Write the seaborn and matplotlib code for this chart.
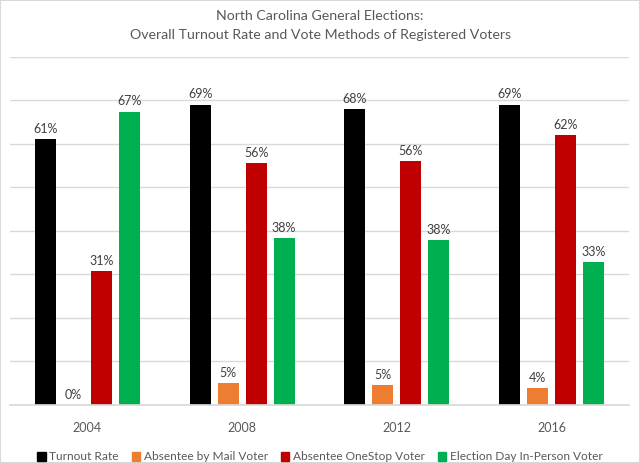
import matplotlib
matplotlib.use("Agg")
import matplotlib.pyplot as plt
import matplotlib.patches as mpatches
import seaborn as sns
import pandas as pd

years = ["2004", "2008", "2012", "2016"]
series = ["Turnout Rate", "Absentee by Mail Voter", "Absentee OneStop Voter", "Election Day In-Person Voter"]
turnout = [61.1, 69.0, 67.9, 69.0]
mail = [0.0, 5.0, 4.6, 3.8]
onestop = [30.8, 55.6, 56.1, 62.0]
election_day = [67.4, 38.3, 37.9, 32.8]
colors = ["#000000", "#ED7D31", "#C00000", "#00B050"]

rows = []
for name, vals in zip(series, [turnout, mail, onestop, election_day]):
    for y, v in zip(years, vals):
        rows.append({"year": y, "series": name, "value": v})
df = pd.DataFrame(rows)

sns.set_theme(style="white")
plt.rcParams['font.family'] = ['Lato', 'DejaVu Sans']

fig = plt.figure(figsize=(6.4, 4.63), dpi=100)
ax = fig.add_axes([10/640, 1-405/463, 619/640, (405-56.7)/463])

sns.barplot(data=df, x="year", y="value", hue="series", order=years, hue_order=series,
            palette=colors, width=0.724, gap=0.25, ax=ax, legend=False, errorbar=None,
            saturation=1, linewidth=0)

for cont in ax.containers:
    ax.bar_label(cont, labels=[f"{round(b.get_height()):.0f}%" for b in cont],
                 padding=3, fontsize=9, color="#404040")

ax.set_ylim(0, 80)
ax.set_xlim(-0.5, 3.5)
ax.set_yticks(range(0, 81, 10))
ax.set_yticklabels([])
ax.yaxis.grid(True, color="#D9D9D9", linewidth=1)
ax.set_axisbelow(True)
for s in ["top", "right", "left"]:
    ax.spines[s].set_visible(False)
ax.spines["bottom"].set_color("#D9D9D9")
ax.tick_params(axis="both", length=0)
ax.tick_params(axis="x", labelsize=9, labelcolor="#595959", pad=12)
ax.set_xlabel("")
ax.set_ylabel("")

fig.text(0.5, 1-16/463, "North Carolina General Elections:", ha="center", va="center",
         fontsize=10.2, color="#595959")
fig.text(0.5, 1-35/463, "Overall Turnout Rate and Vote Methods of Registered Voters", ha="center",
         va="center", fontsize=10.2, color="#595959")

handles = [mpatches.Patch(color=c, label=s) for c, s in zip(colors, series)]
fig.legend(handles=handles, loc="center", bbox_to_anchor=(0.5, 1-457/463), ncol=4, frameon=False,
           fontsize=8.6, labelcolor="#595959", handlelength=0.7, handleheight=0.7,
           handletextpad=0.3, columnspacing=1.1, borderaxespad=0)

fig.patches.append(mpatches.Rectangle((0, 0), 1, 1, transform=fig.transFigure, fill=False,
                                      edgecolor="#D9D9D9", linewidth=1.5))

fig.savefig("out.png", dpi=100)
